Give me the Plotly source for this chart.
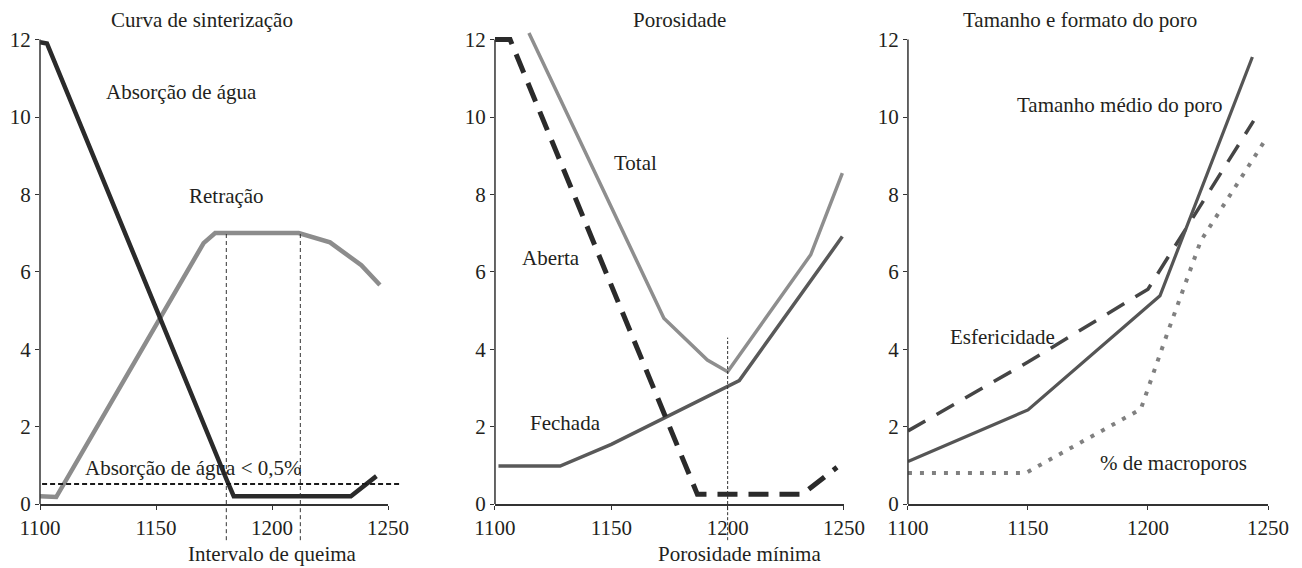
import plotly.graph_objects as go

# ---------------- data ----------------
# Panel 1: Curva de sinterização
abs_x = [1100, 1103, 1180.5, 1183.5, 1234, 1245]
abs_y = [11.93, 11.9, 0.62, 0.2, 0.2, 0.72]
ret_x = [1100, 1107, 1170.5, 1175.5, 1211.5, 1225, 1238.5, 1246.5]
ret_y = [0.2, 0.18, 6.74, 7.0, 7.0, 6.76, 6.17, 5.66]
abs_limit = 0.52
firing_interval = [1180.3, 1212.2]
firing_top = 7.0

# Panel 2: Porosidade
tot_x = [1114.6, 1172.6, 1191.3, 1200, 1235.7, 1249.3]
tot_y = [12.17, 4.8, 3.72, 3.42, 6.44, 8.55]
abe_x = [1100, 1106.5, 1187, 1232, 1247]
abe_y = [12.0, 12.0, 0.25, 0.25, 0.95]
fec_x = [1101.5, 1128, 1150, 1200, 1205, 1249.3]
fec_y = [0.98, 0.98, 1.54, 3.04, 3.19, 6.91]
min_por_x = 1200
min_por_top = 4.3

# Panel 3: Tamanho e formato do poro
tam_x = [1100, 1150, 1205, 1243.5]
tam_y = [1.1, 2.43, 5.38, 11.55]
esf_x = [1100, 1150, 1200, 1244]
esf_y = [1.89, 3.67, 5.55, 9.9]
mac_x = [1100, 1149, 1197, 1208, 1222, 1249]
mac_y = [0.8, 0.8, 2.45, 4.4, 6.8, 9.42]

x_ticks = [1100, 1150, 1200, 1250]
y_ticks = [0, 2, 4, 6, 8, 10, 12]

# ---------------- style ----------------
FONT = "Liberation Serif, Times New Roman, serif"
TXT = "#231f20"
AX = "#333333"
FS = 21

fig = go.Figure()


def line(x, y, n, color, width, dash="solid"):
    sfx = "" if n == 1 else str(n)
    fig.add_trace(go.Scatter(
        x=x, y=y, xaxis="x" + sfx, yaxis="y" + sfx, mode="lines",
        line=dict(color=color, width=width, dash=dash),
        hoverinfo="skip", showlegend=False))


line(ret_x, ret_y, 1, "#8c8c8c", 4.5)
line(abs_x, abs_y, 1, "#2a2a2a", 4.5)

line(tot_x, tot_y, 2, "#8e8e8e", 3.5)
line(fec_x, fec_y, 2, "#595959", 3.5)
line(abe_x, abe_y, 2, "#2a2a2a", 5, "20px,11px")

line(mac_x, mac_y, 3, "#808080", 4, "4px,8px")
line(esf_x, esf_y, 3, "#454545", 3.5, "20px,13px")
line(tam_x, tam_y, 3, "#555555", 3.2)

domains = [[0, 0.2834], [0.3705, 0.6547], [0.7068, 1.0]]
layout = dict(
    width=1294, height=560,
    margin=dict(l=32, r=34, t=20, b=64),
    paper_bgcolor="white", plot_bgcolor="white",
    font=dict(family=FONT, size=FS, color=TXT),
    showlegend=False,
)
shapes = []
for i, dom in enumerate(domains, start=1):
    sfx = "" if i == 1 else str(i)
    layout["xaxis" + sfx] = dict(
        domain=dom, anchor="y" + sfx, range=[1100, 1250],
        tickvals=x_ticks, ticks="outside", ticklen=4, tickcolor=AX,
        showline=True, linecolor=AX, linewidth=1.5,
        showgrid=False, zeroline=False, automargin=False,
        tickfont=dict(family=FONT, size=FS, color=TXT), fixedrange=True)
    layout["yaxis" + sfx] = dict(
        domain=[0, 1], anchor="x" + sfx, range=[0, 12.3],
        tickvals=y_ticks, ticks="outside", ticklen=4, tickcolor=AX,
        showline=False, showgrid=False, zeroline=False, automargin=False,
        tickfont=dict(family=FONT, size=FS, color=TXT), fixedrange=True)
    # y axis line from 0 to 12
    shapes.append(dict(type="line", xref="x" + sfx + " domain", yref="y" + sfx,
                       x0=0, x1=0, y0=0, y1=12,
                       line=dict(color=AX, width=1.5)))

# Panel 1 reference lines
shapes.append(dict(type="line", xref="x domain", yref="y",
                   x0=0.006, x1=1.04, y0=abs_limit, y1=abs_limit,
                   line=dict(color="#1a1a1a", width=2, dash="5px,3px")))
for xv in firing_interval:
    shapes.append(dict(type="line", xref="x", yref="y", x0=xv, x1=xv,
                       y0=0, y1=firing_top,
                       line=dict(color=AX, width=1, dash="4px,3px")))
    shapes.append(dict(type="line", xref="x", yref="y domain", x0=xv, x1=xv,
                       y0=-0.076, y1=0,
                       line=dict(color=AX, width=1, dash="4px,3px")))
# Panel 2 reference line
shapes.append(dict(type="line", xref="x2", yref="y2", x0=min_por_x, x1=min_por_x,
                   y0=0, y1=min_por_top,
                   line=dict(color=AX, width=1, dash="3px,2px")))
shapes.append(dict(type="line", xref="x2", yref="y2 domain", x0=min_por_x, x1=min_por_x,
                   y0=-0.076, y1=0,
                   line=dict(color=AX, width=1, dash="3px,2px")))
layout["shapes"] = shapes

# (panel, x, y, yref-kind, text)
labels = [
    (1, 1170.0, 1.017, "domain", "Curva de sinterização"),
    (1, 1161.2, 10.65, "data", "Absorção de água"),
    (1, 1180.2, 7.96, "data", "Retração"),
    (1, 1166.2, 0.93, "data", "Absorção de água &lt; 0,5%"),
    (1, 1200.0, -0.105, "domain", "Intervalo de queima"),
    (2, 1179.5, 1.017, "domain", "Porosidade"),
    (2, 1160.6, 8.81, "data", "Total"),
    (2, 1124.1, 6.36, "data", "Aberta"),
    (2, 1130.1, 2.09, "data", "Fechada"),
    (2, 1204.9, -0.105, "domain", "Porosidade mínima"),
    (3, 1171.7, 1.017, "domain", "Tamanho e formato do poro"),
    (3, 1188.5, 10.31, "data", "Tamanho médio do poro"),
    (3, 1139.5, 4.32, "data", "Esfericidade"),
    (3, 1210.8, 1.06, "data", "% de macroporos"),
]
anns = []
for n, x, y, kind, t in labels:
    sfx = "" if n == 1 else str(n)
    yref = "y" + sfx + (" domain" if kind == "domain" else "")
    anns.append(dict(xref="x" + sfx, yref=yref, x=x, y=y, text=t,
                     showarrow=False, xanchor="center", yanchor="middle",
                     font=dict(family=FONT, size=FS, color=TXT)))
layout["annotations"] = anns

fig.update_layout(**layout)
fig.write_html("out.html")
